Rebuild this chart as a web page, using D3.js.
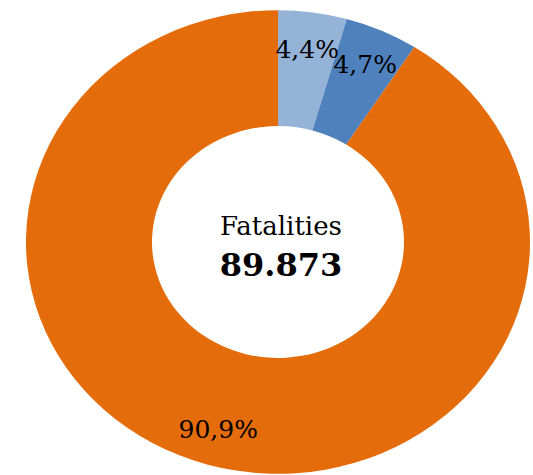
<!DOCTYPE html>
<html>
<head>
<meta charset="utf-8">
<script src="https://cdn.jsdelivr.net/npm/d3@7"></script>
<style>
  body { margin: 0; background: #fff; }
</style>
</head>
<body>
<div id="chart"></div>
<script>
const categories = ["A", "B", "C"];
const shares = [4.4, 4.7, 90.9];
const labels = ["4,4%", "4,7%", "90,9%"];
const centerTitle = "Fatalities";
const centerValue = "89.873";

const width = 533, height = 475;
const cx = 278, cy = 242;
const squash = 0.92;
const outerR = 252, innerR = 126, labelR = 212;

const color = d3.scaleOrdinal()
  .domain(categories)
  .range(["#95b3d7", "#4f81bd", "#e46c0a"]);

const svg = d3.select("#chart").append("svg")
  .attr("width", width)
  .attr("height", height);

const pie = d3.pie().sort(null).value(d => d.v);
const arcs = pie(categories.map((c, i) => ({ c, v: shares[i], label: labels[i] })));

const arc = d3.arc().innerRadius(innerR).outerRadius(outerR);
const labelArc = d3.arc().innerRadius(labelR).outerRadius(labelR);

svg.append("g")
  .attr("transform", `translate(${cx},${cy}) scale(1,${squash})`)
  .selectAll("path")
  .data(arcs)
  .join("path")
  .attr("d", arc)
  .attr("fill", d => color(d.data.c));

// labels placed outside the squashed group so text is not distorted
svg.append("g")
  .selectAll("text")
  .data(arcs)
  .join("text")
  .attr("x", d => cx + labelArc.centroid(d)[0])
  .attr("y", d => cy + labelArc.centroid(d)[1] * squash)
  .attr("text-anchor", "middle")
  .attr("dy", "0.35em")
  .style("font-family", "'DejaVu Serif', serif")
  .style("font-size", "25px")
  .attr("fill", "#000")
  .text(d => d.data.label);

svg.append("text")
  .attr("x", cx + 3)
  .attr("y", 235)
  .attr("text-anchor", "middle")
  .style("font-family", "'DejaVu Serif', serif")
  .style("font-size", "26px")
  .attr("fill", "#000")
  .text(centerTitle);

svg.append("text")
  .attr("x", cx + 3)
  .attr("y", 276)
  .attr("text-anchor", "middle")
  .style("font-family", "'DejaVu Serif', serif")
  .style("font-weight", "bold")
  .style("font-size", "32px")
  .attr("fill", "#000")
  .text(centerValue);
</script>
</body>
</html>
